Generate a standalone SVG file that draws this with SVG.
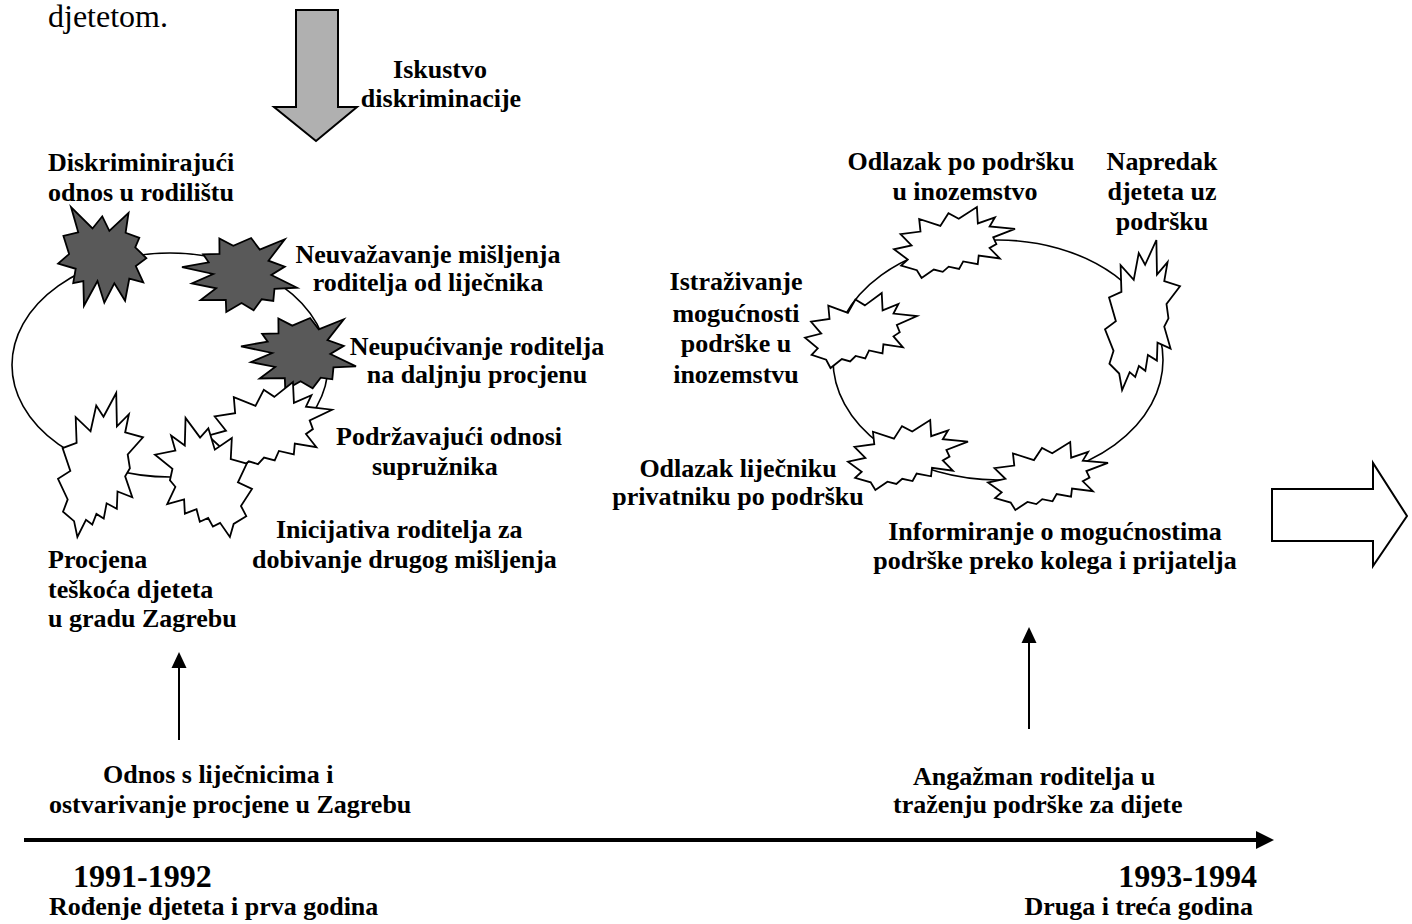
<svg xmlns="http://www.w3.org/2000/svg" xmlns:xlink="http://www.w3.org/1999/xlink" width="1412" height="924" viewBox="0 0 1412 924">
<style>
text{font-family:"Liberation Serif","Times New Roman",serif;font-weight:bold;font-size:26px;fill:#000}
.big{font-size:32px}
.plain{font-weight:normal;font-size:32px}
.mid{text-anchor:middle}
.end{text-anchor:end}
.dark{fill:#595959;stroke:#000;stroke-width:1.8}
.light{fill:#fff;stroke:#000;stroke-width:1.8}
.cyc{fill:none;stroke:#000;stroke-width:1.6}
.ln{stroke:#000;stroke-width:2;fill:none}
</style>
<defs>
<path id="seal1" vector-effect="non-scaling-stroke" d="M50,22.3 L67.2,0 L68.6,19.6 L85.1,20.6 L82.8,30.7 L97.7,37.7 L87.8,48.2 L100,61.5 L83.5,61.9 L84,83.8 L67.9,70.3 L61.3,91.4 L48.6,72.9 L39.3,100 L32.8,76.8 L22,81.6 L21.4,67.4 L0.6,67.5 L10.6,55.4 L0,39.9 L15.7,32.4 L1.7,10.6 L30.7,24.8 L38.7,10.6 Z"/>
<path id="seal2" vector-effect="non-scaling-stroke" d="M53.5,16.5 L68.5,0 L69.3,23.1 L83.4,14.7 L79,27.4 L100,30.8 L82,42.7 L84.6,52.3 L79,57.8 L87.4,72.4 L70,68.4 L69.2,80.4 L57.2,76.6 L53.8,87.2 L45.2,84 L40.3,91.3 L32.9,88.1 L22.8,100 L18.9,89 L5.9,82.5 L11.4,73.9 L0,59.6 L14.5,54.1 L5.4,38.3 L21.9,34.6 L20.8,16.8 L38.3,26.6 L45,8.7 Z"/>
</defs>
<rect width="1412" height="924" fill="#fff"/>

<text class="plain" x="48" y="27">djetetom.</text>

<g id="connectors">
  <ellipse class="cyc" cx="170" cy="365" rx="158" ry="112"/>
  <ellipse class="cyc" cx="998" cy="360" rx="165" ry="120"/>
  <polygon points="296,10 338,10 338,107 357,107 316,141 274,107 296,107" fill="#b0b0b0" stroke="#000" stroke-width="2"/>
  <line class="ln" x1="179" y1="740" x2="179" y2="664"/>
  <polygon points="179,652 171.5,668 186.5,668" fill="#000"/>
  <line class="ln" x1="1029" y1="729" x2="1029" y2="639"/>
  <polygon points="1029,627 1021.5,643 1036.5,643" fill="#000"/>
  <line x1="24" y1="840" x2="1260" y2="840" stroke="#000" stroke-width="4"/>
  <polygon points="1256,831 1274,840 1256,849" fill="#000"/>
  <polygon points="1272,489 1373,489 1373,463 1407,516 1373,566 1373,541 1272,541" fill="#fff" stroke="#000" stroke-width="2"/>
</g>

<g id="label-iskustvo">
  <text class="mid" x="440" y="78">Iskustvo</text>
  <text class="mid" x="441" y="107">diskriminacije</text>
</g>

<g id="n-diskriminirajuci">
  <use xlink:href="#seal1" class="dark" transform="translate(60,207) scale(0.87,1.03) rotate(14,50,50)"/>
  <text x="48" y="171">Diskriminirajući</text>
  <text x="48" y="201">odnos u rodilištu</text>
</g>
<g id="n-neuvazavanje">
  <use xlink:href="#seal1" class="dark" transform="translate(182,238) scale(1.15,0.74) translate(100,0) rotate(90)"/>
  <text class="mid" x="428" y="263">Neuvažavanje mišljenja</text>
  <text class="mid" x="428" y="291">roditelja od liječnika</text>
</g>
<g id="n-neupucivanje">
  <use xlink:href="#seal1" class="dark" transform="translate(241,318) scale(1.15,0.72) translate(100,0) rotate(90)"/>
  <text class="mid" x="477" y="355">Neupućivanje roditelja</text>
  <text class="mid" x="477" y="383">na daljnju procjenu</text>
</g>
<g id="n-podrzavajuci">
  <use xlink:href="#seal2" class="light" transform="translate(208,382) scale(1.24,0.9)"/>
  <text x="336" y="445">Podržavajući odnosi</text>
  <text x="372" y="475">supružnika</text>
</g>
<g id="n-procjena">
  <use xlink:href="#seal2" class="light" transform="translate(58,393) scale(0.85,1.44)"/>
  <text x="48" y="568">Procjena</text>
  <text x="48" y="598">teškoća djeteta</text>
  <text x="48" y="627">u gradu Zagrebu</text>
</g>
<g id="n-inicijativa">
  <use xlink:href="#seal2" class="light" transform="translate(252,418) scale(-0.97,1.19)"/>
  <text x="276" y="538">Inicijativa roditelja za</text>
  <text x="252" y="568">dobivanje drugog mišljenja</text>
</g>

<g id="n-odlazak-inozemstvo">
  <use xlink:href="#seal2" class="light" transform="translate(894,207) scale(1.21,0.71)"/>
  <text class="mid" x="961" y="170">Odlazak po podršku</text>
  <text class="mid" x="965" y="200">u inozemstvo</text>
</g>
<g id="n-napredak">
  <use xlink:href="#seal2" class="light" transform="translate(1105,240) scale(0.75,1.5)"/>
  <text class="mid" x="1162" y="170">Napredak</text>
  <text class="mid" x="1162" y="200">djeteta uz</text>
  <text class="mid" x="1162" y="230">podršku</text>
</g>
<g id="n-istrazivanje">
  <use xlink:href="#seal2" class="light" transform="translate(805,293) scale(1.12,0.75)"/>
  <text class="mid" x="736" y="290">Istraživanje</text>
  <text class="mid" x="736" y="322">mogućnosti</text>
  <text class="mid" x="736" y="352">podrške u</text>
  <text class="mid" x="736" y="383">inozemstvu</text>
</g>
<g id="n-odlazak-lijecniku">
  <use xlink:href="#seal2" class="light" transform="translate(848,420) scale(1.2,0.7)"/>
  <text class="mid" x="738" y="477">Odlazak liječniku</text>
  <text class="mid" x="738" y="505">privatniku po podršku</text>
</g>
<g id="n-informiranje">
  <use xlink:href="#seal2" class="light" transform="translate(988,442) scale(1.2,0.68)"/>
  <text class="mid" x="1055" y="540">Informiranje o mogućnostima</text>
  <text class="mid" x="1055" y="569">podrške preko kolega i prijatelja</text>
</g>

<g id="phase-1">
  <text x="103" y="783">Odnos s liječnicima i</text>
  <text x="49" y="813">ostvarivanje procjene u Zagrebu</text>
  <text class="big" x="73" y="887">1991-1992</text>
  <text x="49" y="915">Rođenje djeteta i prva godina</text>
</g>
<g id="phase-2">
  <text x="913" y="785">Angažman roditelja u</text>
  <text x="893" y="813">traženju podrške za dijete</text>
  <text class="big end" x="1257" y="887">1993-1994</text>
  <text class="end" x="1253" y="915">Druga i treća godina</text>
</g>
</svg>
